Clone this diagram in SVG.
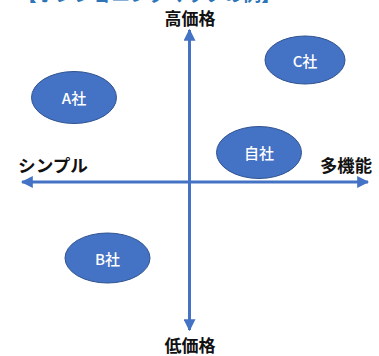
<svg xmlns="http://www.w3.org/2000/svg" width="379" height="356" viewBox="0 0 379 356">
<style>
.node ellipse{fill:#4472C4;stroke:#2F528F;stroke-width:1}
.node text{fill:#fff;font-family:"Noto Sans CJK JP","Noto Sans",sans-serif;font-size:15px;font-weight:500;text-anchor:middle;dominant-baseline:central}
.lbl{fill:#111;font-family:"Noto Sans CJK JP",sans-serif;font-size:17px;font-weight:bold}
.ax{stroke:#4472C4;stroke-width:3;fill:none}
</style>
<defs>
<marker id="ah" viewBox="0 0 10 10" refX="9" refY="5" markerWidth="4" markerHeight="4" orient="auto-start-reverse" markerUnits="strokeWidth">
<path d="M0,0 L10,5 L0,10 z" fill="#4472C4"/>
</marker>
</defs>
<rect width="379" height="356" fill="#fff"/>
<text x="18" y="1" fill="#2E75B6" font-family="Noto Sans CJK JP,sans-serif" font-size="18.5" font-weight="bold" textLength="262" lengthAdjust="spacingAndGlyphs">【ポジショニングマップの例】</text>
<g id="connectors">
<line class="ax" x1="189.5" y1="330" x2="189.5" y2="30" marker-end="url(#ah)" marker-start="url(#ah)"/>
<line class="ax" x1="22" y1="182" x2="368" y2="182" marker-end="url(#ah)" marker-start="url(#ah)"/>
</g>
<g id="labels">
<text class="lbl" x="190" y="25" text-anchor="middle">高価格</text>
<text class="lbl" x="190" y="352" text-anchor="middle">低価格</text>
<text class="lbl" x="18" y="172" textLength="70" lengthAdjust="spacingAndGlyphs">シンプル</text>
<text class="lbl" x="320" y="172" textLength="52" lengthAdjust="spacingAndGlyphs">多機能</text>
</g>
<g id="nodeA" class="node"><ellipse cx="74" cy="97.5" rx="42.5" ry="26"/><text x="74" y="97.5">A社</text></g>
<g id="nodeC" class="node"><ellipse cx="305" cy="60" rx="40" ry="24"/><text x="305" y="60">C社</text></g>
<g id="nodeSelf" class="node"><ellipse cx="259" cy="152.5" rx="42.5" ry="26"/><text x="259" y="152.5">自社</text></g>
<g id="nodeB" class="node"><ellipse cx="107.5" cy="258" rx="42.5" ry="25"/><text x="107.5" y="258">B社</text></g>
</svg>
